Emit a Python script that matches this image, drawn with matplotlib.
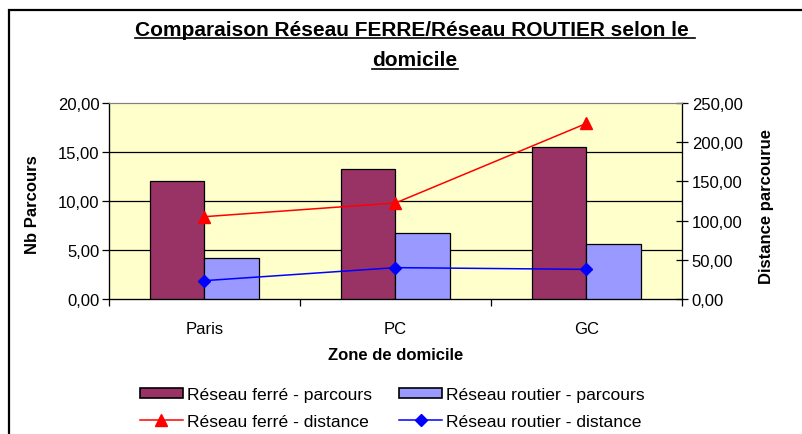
import matplotlib
matplotlib.use("Agg")
import matplotlib.pyplot as plt
from matplotlib.lines import Line2D
from matplotlib.patches import Patch, Rectangle
from matplotlib.ticker import FuncFormatter, FixedLocator

plt.rcParams["font.family"] = ["Liberation Sans", "DejaVu Sans"]

zones = ["Paris", "PC", "GC"]
ferre_parcours = [12.04, 13.27, 15.48]
routier_parcours = [4.22, 6.77, 5.61]
ferre_distance = [105.0, 122.5, 224.0]
routier_distance = [23.4, 40.0, 37.8]

title_lines = ["Comparaison Réseau FERRE/Réseau ROUTIER selon le ", "domicile"]

W, H = 803, 435
fig = plt.figure(figsize=(W / 100, H / 100), dpi=100)
fig.patch.set_facecolor("white")


def fx(px):
    return px / W


def fy(py):
    return 1 - py / H


# chart area border
fig.patches.append(Rectangle((fx(9), fy(445)), 1.2, fy(11) - fy(445),
                             transform=fig.transFigure, fill=False,
                             edgecolor="black", linewidth=1.6))

ax = fig.add_axes([fx(109), fy(300), fx(682) - fx(109), fy(104) - fy(300)])
ax.set_facecolor("#FFFFCC")
x = list(range(len(zones)))
bw = 0.284
ax.bar([i - bw / 2 for i in x], ferre_parcours, bw, color="#993366",
       edgecolor="black", linewidth=0.9, zorder=3)
ax.bar([i + bw / 2 for i in x], routier_parcours, bw, color="#9999FF",
       edgecolor="black", linewidth=0.9, zorder=3)
ax.set_xlim(-0.5, 2.5)
ax.set_ylim(0, 20)
ax.yaxis.set_major_locator(FixedLocator([0, 5, 10, 15, 20]))
ax.yaxis.set_major_formatter(FuncFormatter(lambda v, p: f"{v:.2f}".replace(".", ",")))
for v in [5, 10, 15]:
    ax.axhline(v, color="black", linewidth=0.9, zorder=1)
ax.set_xticks([-0.5, 0.5, 1.5, 2.5])
ax.set_xticklabels([])
ax.set_xticks(x, minor=True)
ax.set_xticklabels(zones, minor=True)
ax.tick_params(axis="x", which="major", direction="out", length=5, width=0.9)
ax.tick_params(axis="x", which="minor", length=0, labelsize=12, pad=16)
ax.tick_params(axis="y", direction="out", length=5, width=0.9, labelsize=12, pad=2)
for s in ["top", "right"]:
    ax.spines[s].set_color("#808080")
for s in ["left", "bottom"]:
    ax.spines[s].set_color("black")
    ax.spines[s].set_linewidth(0.9)

ax2 = ax.twinx()
ax2.set_ylim(0, 250)
ax2.yaxis.set_major_locator(FixedLocator([0, 50, 100, 150, 200, 250]))
ax2.yaxis.set_major_formatter(FuncFormatter(lambda v, p: f"{v:.2f}".replace(".", ",")))
ax2.plot(x, ferre_distance, color="red", linewidth=1.1, marker="^",
         markersize=8, zorder=4)
ax2.plot(x, routier_distance, color="blue", linewidth=1.1, marker="D",
         markersize=6, zorder=4)
ax2.tick_params(axis="y", direction="inout", length=8, width=0.9, labelsize=12, pad=3)
ax2.spines["right"].set_color("black")
ax2.spines["right"].set_linewidth(0.9)
ax2.spines["top"].set_color("#808080")

fig.text(fx(33), fy(205), "Nb Parcours", rotation=90, ha="center", va="center",
         fontsize=12, fontweight="bold")
fig.text(fx(767), fy(207), "Distance parcourue", rotation=90, ha="center", va="center",
         fontsize=12, fontweight="bold")
fig.text(fx(396), fy(356), "Zone de domicile", ha="center", va="center",
         fontsize=12, fontweight="bold")

t1 = fig.text(fx(415), fy(30), title_lines[0], ha="center", va="center",
              fontsize=15, fontweight="bold")
t2 = fig.text(fx(415), fy(61), title_lines[1], ha="center", va="center",
              fontsize=15, fontweight="bold")

handles = [
    Patch(facecolor="#993366", edgecolor="black", linewidth=1.2),
    Line2D([], [], color="red", linewidth=1.1, marker="^", markersize=8),
    Patch(facecolor="#9999FF", edgecolor="black", linewidth=1.2),
    Line2D([], [], color="blue", linewidth=1.1, marker="D", markersize=6),
]
labels = ["Réseau ferré - parcours", "Réseau ferré - distance",
          "Réseau routier - parcours", "Réseau routier - distance"]
fig.legend(handles, labels, ncol=2, loc="center left",
           bbox_to_anchor=(fx(124), fy(409)), frameon=False, fontsize=12.6,
           handlelength=2.45, handleheight=0.55, handletextpad=0.25,
           columnspacing=1.55, labelspacing=0.65)

# underline the title
fig.canvas.draw()
r = fig.canvas.get_renderer()
for t in (t1, t2):
    bb = t.get_window_extent(r)
    yy = bb.y0 + 1
    fig.add_artist(Line2D([bb.x0 / W, bb.x1 / W], [yy / H, yy / H],
                          transform=fig.transFigure, color="black", linewidth=1.2))

fig.savefig("out.png", dpi=100)
